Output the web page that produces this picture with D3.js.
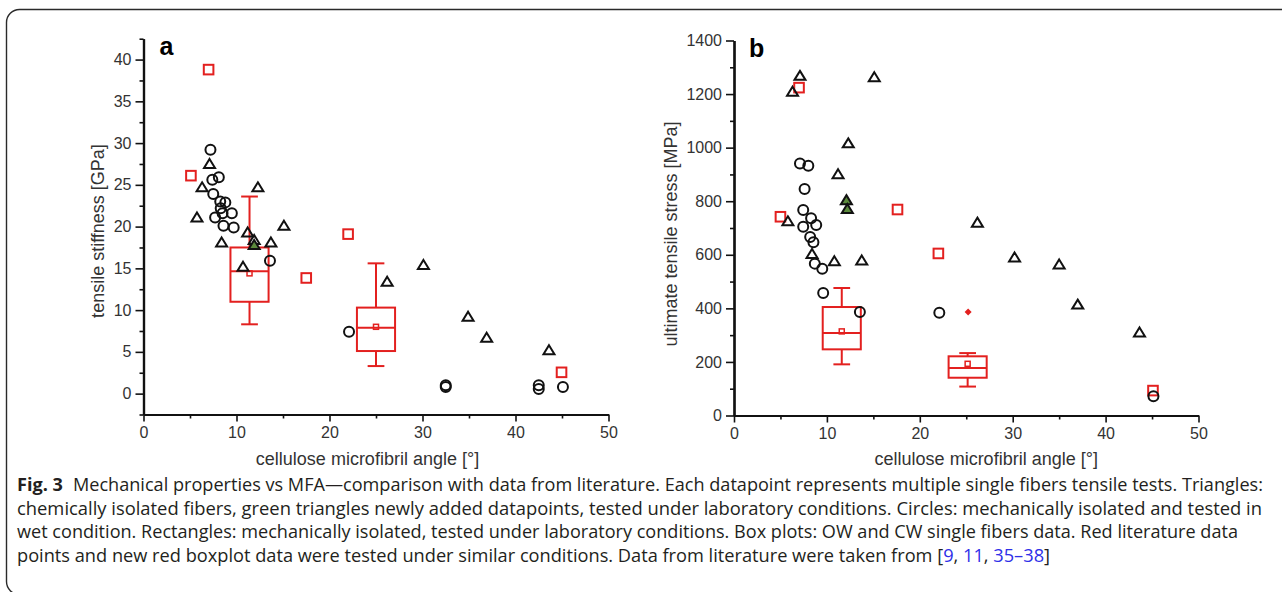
<!DOCTYPE html>
<html><head><meta charset="utf-8">
<script src="https://cdn.jsdelivr.net/npm/d3@7/dist/d3.min.js"></script>
<style>html,body{margin:0;padding:0;background:#fff;}svg{display:block;}</style>
</head><body><svg id="c" width="1282" height="592"></svg>
<script>
// ---------- DATA ----------
const xTicks = [0, 10, 20, 30, 40, 50];
const xMinorTicks = [5, 15, 25, 35, 45];
const aYTicks = [0, 5, 10, 15, 20, 25, 30, 35, 40];
const aYMinorTicks = [-2.5, 2.5, 7.5, 12.5, 17.5, 22.5, 27.5, 32.5, 37.5, 42.5];
const bYTicks = [0, 200, 400, 600, 800, 1000, 1200, 1400];
const bYMinorTicks = [100, 300, 500, 700, 900, 1100, 1300];

// Panel a: tensile stiffness [GPa]
const aTriangles = [[7.1,27.5],[6.3,24.7],[5.75,21.1],[12.3,24.7],[15.1,20.1],[11.2,19.3],[8.4,18.1],[11.9,18.4],[13.7,18.1],[10.7,15.2],[26.2,13.4],[30.1,15.4],[34.9,9.2],[36.9,6.7],[43.6,5.2]];
const aGreenTriangles = [[11.9,17.8]];
const aCircles = [[7.2,29.2],[7.4,25.6],[8.1,25.9],[7.5,23.9],[8.25,23.0],[8.8,22.9],[8.3,22.2],[7.7,21.1],[8.5,21.6],[9.5,21.6],[8.6,20.1],[9.7,19.9],[13.6,15.9],[22.1,7.4],[32.5,1.0],[32.5,0.8],[42.5,1.0],[42.5,0.55],[45.1,0.8]];
const aSquares = [[7.0,38.8],[5.1,26.1],[22.0,19.1],[17.5,13.85],[44.95,2.55]];
const aBoxes = [
  {x:11.4, min:8.3, q1:11.0, med:14.65, q3:17.5, max:23.6, mean:14.4},
  {x:25.0, min:3.3, q1:5.1, med:7.9, q3:10.3, max:15.6, mean:8.0}
];
const aOutliers = [];

// Panel b: ultimate tensile stress [MPa]
const bTriangles = [[7.1,1268],[6.3,1209],[15.1,1263],[12.3,1016],[11.2,901],[5.8,725],[10.8,576],[13.75,579],[8.4,603],[26.2,720],[30.2,590],[35.0,564],[37.0,414],[43.65,310]];
const bGreenTriangles = [[12.1,804],[12.2,771]];
const bCircles = [[7.1,941],[8.0,932],[7.6,846],[7.45,767],[8.3,736],[8.85,711],[7.45,705],[8.2,666],[8.55,647],[8.7,567],[9.5,548],[9.6,457],[13.55,386],[22.1,384],[45.15,72]];
const bSquares = [[7.0,1224],[5.0,742],[17.6,769],[22.0,605],[45.1,93]];
const bBoxes = [
  {x:11.6, min:191, q1:247, med:308, q3:405, max:476, mean:314},
  {x:25.15, min:108, q1:141, med:177, q3:221, max:233, mean:193}
];
const bOutliers = [[25.2,386]];

const captionLines = [
  ["Fig. 3", "Mechanical properties vs MFA\u2014comparison with data from literature. Each datapoint represents multiple single fibers tensile tests. Triangles:"],
  ["", "chemically isolated fibers, green triangles newly added datapoints, tested under laboratory conditions. Circles: mechanically isolated and tested in"],
  ["", "wet condition. Rectangles: mechanically isolated, tested under laboratory conditions. Box plots: OW and CW single fibers data. Red literature data"],
  ["", "points and new red boxplot data were tested under similar conditions. Data from literature were taken from "]
];
const captionRefs = ["9", ", ", "11", ", ", "35\u201338"];

// ---------- DRAWING ----------
const svg = d3.select("#c");
const RED = "#e3201f", BLACK = "#111", GREEN = "#5b8a3c", GREY = "#333";
const FONT = "'Liberation Sans', Arial, sans-serif";

// frame
svg.append("rect").attr("x", 6.5).attr("y", 9.5).attr("width", 1300).attr("height", 585)
  .attr("rx", 13).attr("fill", "none").attr("stroke", "#2a2a2a").attr("stroke-width", 1.4);

function panel(cfg) {
  const g = svg.append("g");
  const x = d3.scaleLinear().domain([0, 50]).range([cfg.x0, cfg.x1]);
  const y = d3.scaleLinear().domain(cfg.ydom).range([cfg.yBot, cfg.yTop]);

  const ax = g.append("g").attr("transform", `translate(0,${cfg.yBot})`)
    .call(d3.axisBottom(x).tickValues(xTicks).tickSize(7).tickPadding(5).tickSizeOuter(0).tickFormat(d3.format("d")));
  const axm = g.append("g").attr("transform", `translate(0,${cfg.yBot})`)
    .call(d3.axisBottom(x).tickValues(xMinorTicks).tickSize(4).tickFormat("").tickSizeOuter(0));
  const ay = g.append("g").attr("transform", `translate(${cfg.x0},0)`)
    .call(d3.axisLeft(y).tickValues(cfg.yTicks).tickSize(8).tickPadding(4).tickSizeOuter(0).tickFormat(d3.format("d")));
  const aym = g.append("g").attr("transform", `translate(${cfg.x0},0)`)
    .call(d3.axisLeft(y).tickValues(cfg.yMinor).tickSize(4).tickFormat("").tickSizeOuter(0));
  [ax, axm, ay, aym].forEach(a => {
    a.selectAll("path.domain").attr("stroke", BLACK).attr("stroke-width", 2.2);
    a.selectAll(".tick line").attr("stroke", BLACK).attr("stroke-width", 1.6);
    a.selectAll(".tick text").attr("font-family", FONT).attr("font-size", 16).attr("fill", GREY);
  });

  g.append("text").attr("x", (cfg.x0 + cfg.x1) / 2 + cfg.xtDx).attr("y", 465)
    .attr("text-anchor", "middle").attr("font-family", FONT).attr("font-size", 18).attr("fill", GREY)
    .text("cellulose microfibril angle [\u00b0]");
  g.append("text").attr("transform", `translate(${cfg.ytX},${cfg.ytY}) rotate(-90)`)
    .attr("text-anchor", "middle").attr("font-family", FONT).attr("font-size", 18).attr("fill", GREY)
    .text(cfg.ytitle);
  g.append("text").attr("x", cfg.x0 + cfg.labDx).attr("y", cfg.labY)
    .attr("font-family", FONT).attr("font-size", 25).attr("font-weight", "bold").attr("fill", "#000")
    .text(cfg.label);

  const hw = 2.05, cw = 0.9;
  cfg.boxes.forEach(b => {
    const bg = g.append("g").attr("stroke", RED).attr("stroke-width", 2).attr("fill", "none");
    bg.append("line").attr("x1", x(b.x)).attr("x2", x(b.x)).attr("y1", y(b.q3)).attr("y2", y(b.max));
    bg.append("line").attr("x1", x(b.x)).attr("x2", x(b.x)).attr("y1", y(b.q1)).attr("y2", y(b.min));
    bg.append("line").attr("x1", x(b.x - cw)).attr("x2", x(b.x + cw)).attr("y1", y(b.max)).attr("y2", y(b.max));
    bg.append("line").attr("x1", x(b.x - cw)).attr("x2", x(b.x + cw)).attr("y1", y(b.min)).attr("y2", y(b.min));
    bg.append("rect").attr("x", x(b.x - hw)).attr("y", y(b.q3))
      .attr("width", x(b.x + hw) - x(b.x - hw)).attr("height", y(b.q1) - y(b.q3));
    bg.append("line").attr("x1", x(b.x - hw)).attr("x2", x(b.x + hw)).attr("y1", y(b.med)).attr("y2", y(b.med));
    bg.append("rect").attr("x", x(b.x) - 2.5).attr("y", y(b.mean) - 2.5).attr("width", 5).attr("height", 5)
      .attr("stroke-width", 1.5);
  });
  cfg.outliers.forEach(d => {
    g.append("path").attr("d", "M0,-3.5L3.5,0L0,3.5L-3.5,0Z").attr("fill", RED)
      .attr("transform", `translate(${x(d[0])},${y(d[1])})`);
  });

  g.selectAll(".sq").data(cfg.squares).join("rect")
    .attr("x", d => x(d[0]) - 4.8).attr("y", d => y(d[1]) - 4.8).attr("width", 9.6).attr("height", 9.6)
    .attr("fill", "none").attr("stroke", RED).attr("stroke-width", 2);
  g.selectAll(".ci").data(cfg.circles).join("circle")
    .attr("cx", d => x(d[0])).attr("cy", d => y(d[1])).attr("r", 5)
    .attr("fill", "none").attr("stroke", BLACK).attr("stroke-width", 2);
  const tri = "M0,-5L5.5,4L-5.5,4Z";
  g.selectAll(".tr").data(cfg.triangles).join("path")
    .attr("d", tri).attr("transform", d => `translate(${x(d[0])},${y(d[1])})`)
    .attr("fill", "none").attr("stroke", BLACK).attr("stroke-width", 2).attr("stroke-linejoin", "miter");
  g.selectAll(".gt").data(cfg.green).join("path")
    .attr("d", tri).attr("transform", d => `translate(${x(d[0])},${y(d[1])})`)
    .attr("fill", GREEN).attr("stroke", BLACK).attr("stroke-width", 2);
}

panel({x0:143.5, x1:608.5, yTop:38.7, yBot:414.5, ydom:[-2.5,42.5], yTicks:aYTicks, yMinor:aYMinorTicks,
  ytitle:"tensile stiffness [GPa]", ytX:104, ytY:231, xtDx:-8.5, label:"a", labDx:16, labY:55,
  boxes:aBoxes, outliers:aOutliers, squares:aSquares, circles:aCircles, triangles:aTriangles, green:aGreenTriangles});
panel({x0:734, x1:1198.5, yTop:40.5, yBot:415.5, ydom:[0,1400], yTicks:bYTicks, yMinor:bYMinorTicks,
  ytitle:"ultimate tensile stress [MPa]", ytX:677, ytY:234, xtDx:20, label:"b", labDx:15, labY:57,
  boxes:bBoxes, outliers:bOutliers, squares:bSquares, circles:bCircles, triangles:bTriangles, green:bGreenTriangles});

// caption
const CF = "'Open Sans', 'Noto Sans', sans-serif";
const capLens = [1246, 1245, 1221, 1033];
const capY = [491, 514.5, 538, 561.5];
captionLines.forEach((ln, i) => {
  const t = svg.append("text").attr("x", 17).attr("y", capY[i]).attr("font-family", CF)
    .attr("font-size", 18).attr("fill", "#231f20")
    .attr("textLength", capLens[i]).attr("lengthAdjust", "spacingAndGlyphs");
  if (ln[0]) {
    t.append("tspan").attr("font-weight", "bold").text(ln[0]);
    t.append("tspan").attr("dx", 10).text(ln[1]);
  } else {
    t.append("tspan").text(ln[1]);
  }
  if (i === 3) {
    t.append("tspan").text("[");
    captionRefs.forEach(r => t.append("tspan").attr("fill", /\d/.test(r) ? "#2f2fe8" : "#231f20").text(r));
    t.append("tspan").text("]");
  }
});
</script></body></html>
